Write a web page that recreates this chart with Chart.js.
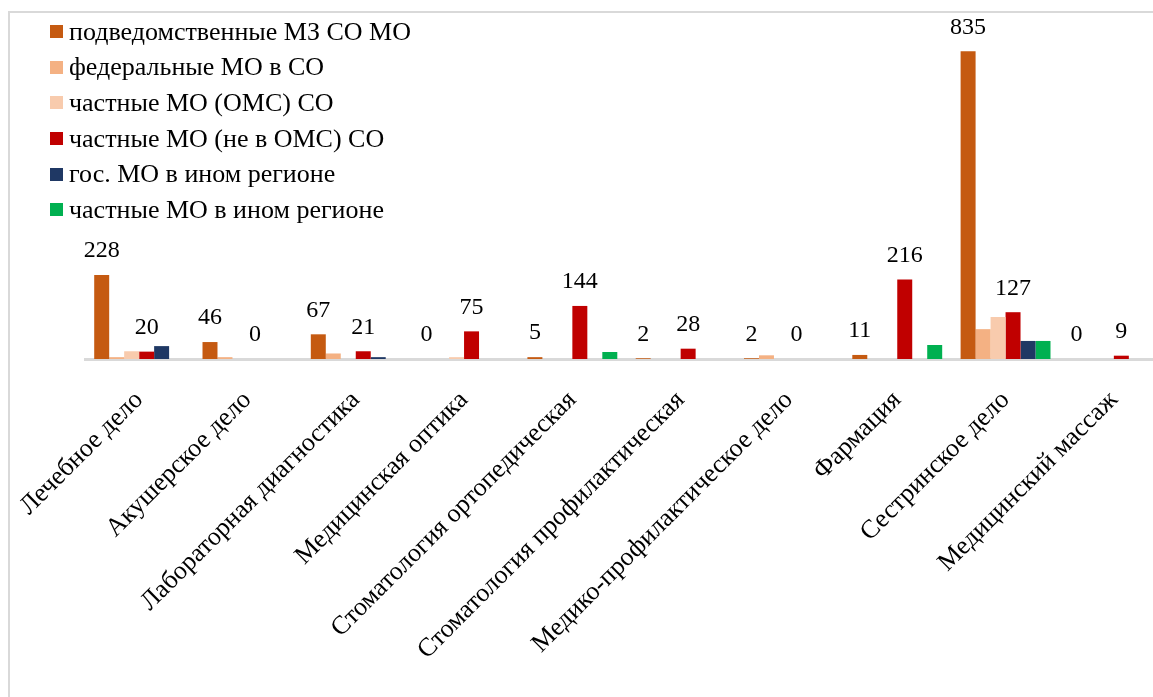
<!DOCTYPE html>
<html lang="ru">
<head>
<meta charset="utf-8">
<title>Специальности</title>
<script src="https://cdn.jsdelivr.net/npm/chart.js@4"></script>
<style>
    html, body { margin: 0; padding: 0; background: #fff; overflow: hidden; }
    #wrap { position: relative; width: 1153px; height: 697px; overflow: hidden; }
    #frame { position: absolute; left: 8px; top: 11px; width: 1300px; height: 800px;
             border-left: 2px solid #d9d9d9; border-top: 2px solid #d9d9d9; }
    #box { position: absolute; left: -20px; top: 0; width: 1200px; height: 697px; }
    #legend { position: absolute; left: 50px; top: 14px; font-family: "Liberation Serif", "Times New Roman", serif;
              font-size: 26px; color: #000; }
    #legend .item { height: 35.6px; display: flex; align-items: center; white-space: nowrap; }
    #legend .mark { width: 13px; height: 13px; margin-right: 6px; }
</style>
</head>
<body>
<div id="wrap">
    <div id="frame"></div>
    <div id="box"><canvas id="chart"></canvas></div>
    <div id="legend"></div>
</div>
<script>
// Categories (specialities)
const categories = ['Лечебное дело', 'Акушерское дело', 'Лабораторная диагностика', 'Медицинская оптика',
    'Стоматология ортопедическая', 'Стоматология профилактическая', 'Медико-профилактическое дело',
    'Фармация', 'Сестринское дело', 'Медицинский массаж'];

// Series names
const seriesNames = ['подведомственные МЗ СО МО', 'федеральные МО в СО', 'частные МО (ОМС) СО',
    'частные МО (не в ОМС) СО', 'гос. МО в ином регионе', 'частные МО в ином регионе'];

// Series values
const subordinate   = [228, 46, 67, 0, 5, 2, 2, 11, 835, 0];
const federal       = [5, 5, 15, 0, 0, 0, 10, 0, 81, 0];
const privateOms    = [21, 0, 0, 5, 0, 0, 0, 0, 114, 0];
const privateNonOms = [20, 0, 21, 75, 144, 28, 0, 216, 127, 9];
const stateOther    = [35, 0, 5, 0, 0, 0, 0, 0, 49, 0];
const privateOther  = [0, 0, 0, 0, 19, 0, 0, 38, 49, 0];

const seriesValues = [subordinate, federal, privateOms, privateNonOms, stateOther, privateOther];
const seriesColors = ['#C55A11', '#F4B183', '#F8CBAD', '#C00000', '#1F3864', '#00B050'];
// only these series get value labels
const labelledSeries = [0, 3];

const serif = '"Liberation Serif", "Times New Roman", serif';

// Legend (vertical list over the plot)
const legendEl = document.getElementById('legend');
seriesNames.forEach((name, i) => {
    const row = document.createElement('div');
    row.className = 'item';
    row.innerHTML = '<span class="mark" style="background:' + seriesColors[i] + '"></span><span>' + name + '</span>';
    legendEl.appendChild(row);
});

// Draw numbers above bars
const valueLabels = {
    id: 'valueLabels',
    afterDatasetsDraw(chart) {
        const ctx = chart.ctx;
        ctx.save();
        ctx.font = '24px ' + serif;
        ctx.fillStyle = '#000';
        ctx.textAlign = 'center';
        ctx.textBaseline = 'middle';
        labelledSeries.forEach(di => {
            const meta = chart.getDatasetMeta(di);
            meta.data.forEach((bar, i) => {
                ctx.fillText(String(chart.data.datasets[di].data[i]), bar.x, bar.y - 24);
            });
        });
        ctx.restore();
    }
};

new Chart(document.getElementById('chart'), {
    type: 'bar',
    data: {
        labels: categories,
        datasets: seriesValues.map((vals, i) => ({
            label: seriesNames[i],
            data: vals,
            backgroundColor: seriesColors[i],
            borderWidth: 0,
            barPercentage: 1,
            categoryPercentage: 0.83
        }))
    },
    options: {
        responsive: true,
        maintainAspectRatio: false,
        animation: false,
        layout: { padding: { top: 20, left: 105, right: 12, bottom: 0 } },
        scales: {
            x: {
                grid: { display: false, drawTicks: false },
                border: { display: true, color: '#d9d9d9', width: 3 },
                ticks: {
                    color: '#000',
                    font: { family: serif, size: 26 },
                    maxRotation: 45,
                    minRotation: 45,
                    autoSkip: false,
                    padding: 26
                },
                afterFit(scale) { scale.height = 338; }
            },
            y: {
                display: false,
                min: 0,
                max: 920
            }
        },
        plugins: {
            legend: { display: false },
            tooltip: { enabled: false }
        }
    },
    plugins: [valueLabels]
});
</script>
</body>
</html>
